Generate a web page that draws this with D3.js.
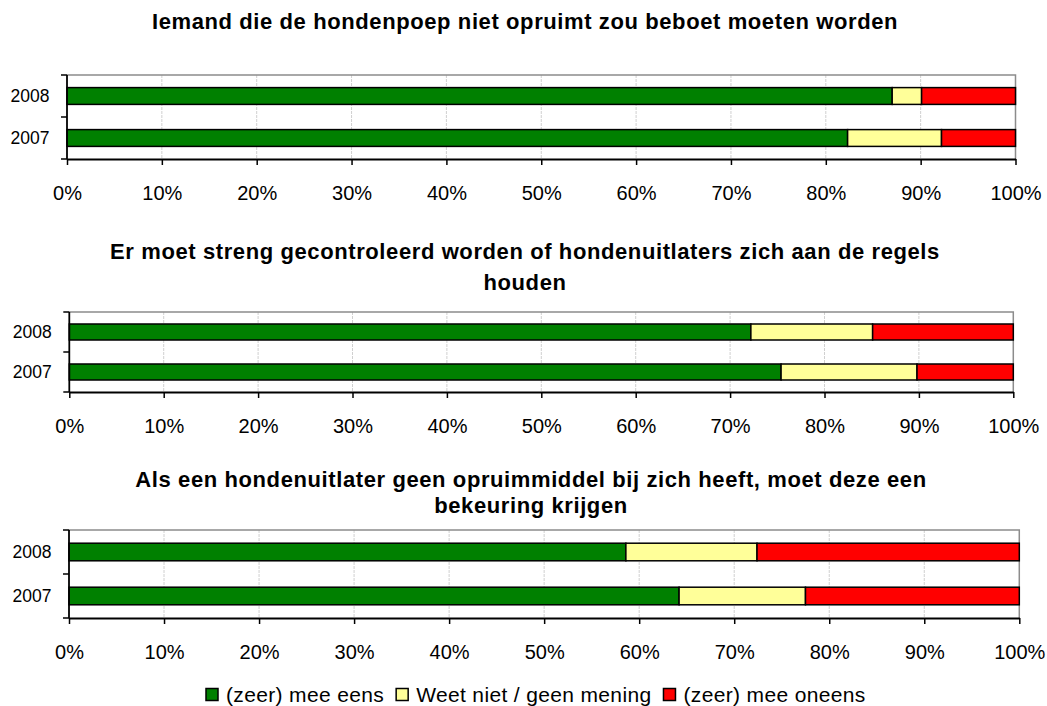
<!DOCTYPE html>
<html>
<head>
<meta charset="utf-8">
<script src="https://cdn.jsdelivr.net/npm/d3@7"></script>
<style>
  body { margin: 0; background: #fff; }
  svg { display: block; font-family: Arial, "Liberation Sans", sans-serif; }
</style>
</head>
<body>
<svg width="1047" height="706"></svg>
<script>
// categories (top to bottom)
const years = ['2008', '2007'];
const series = ['(zeer) mee eens', 'Weet niet / geen mening', '(zeer) mee oneens'];
const colors = ['#008000', '#FFFF99', '#FF0000'];

// percentages per year: [mee eens, weet niet, mee oneens]
const q1 = [[87.0, 3.1, 9.9], [82.3, 9.9, 7.8]];
const q2 = [[72.2, 12.9, 14.9], [75.4, 14.4, 10.2]];
const q3 = [[58.6, 13.8, 27.6], [64.2, 13.3, 22.5]];

const titles = [
  ['Iemand die de hondenpoep niet opruimt zou beboet moeten worden'],
  ['Er moet streng gecontroleerd worden of hondenuitlaters zich aan de regels', 'houden'],
  ['Als een hondenuitlater geen opruimmiddel bij zich heeft, moet deze een', 'bekeuring krijgen']
];

const tickValues = [0, 10, 20, 30, 40, 50, 60, 70, 80, 90, 100];

// layout of the three panels
const panels = [
  { data: q1, title: titles[0], left: 67, right: 1015.5, top: 75, bottom: 159, tx: 525, ty: [28.5] },
  { data: q2, title: titles[1], left: 69.3, right: 1013.3, top: 312, bottom: 392, tx: 525, ty: [259, 290] },
  { data: q3, title: titles[2], left: 69, right: 1019.3, top: 530, bottom: 618, tx: 531, ty: [486.5, 513] }
];

const svg = d3.select('svg');

const stack = d3.stack().keys(d3.range(series.length));

panels.forEach(p => {
  const g = svg.append('g');
  const x = d3.scaleLinear().domain([0, 100]).range([p.left, p.right]);
  const y = d3.scaleBand().domain(years).range([p.top, p.bottom])
    .paddingInner(0.6).paddingOuter(0.3);

  // title
  g.selectAll('text.title').data(p.title).join('text')
    .attr('class', 'title')
    .attr('x', p.tx)
    .attr('y', (d, i) => p.ty[i])
    .attr('text-anchor', 'middle')
    .attr('font-size', 22)
    .attr('font-weight', 'bold')
    .attr('letter-spacing', 0.6)
    .attr('fill', '#000')
    .text(d => d);

  // gridlines
  g.selectAll('line.grid').data(tickValues.slice(1, -1)).join('line')
    .attr('class', 'grid')
    .attr('x1', d => x(d)).attr('x2', d => x(d))
    .attr('y1', p.top).attr('y2', p.bottom)
    .attr('stroke', '#d0d0d0')
    .attr('stroke-dasharray', '3,1');

  // plot frame top + right (grey)
  g.append('path')
    .attr('d', `M${p.left},${p.top}H${p.right}V${p.bottom}`)
    .attr('fill', 'none')
    .attr('stroke', '#8c8c8c')
    .attr('stroke-width', 1.5);

  // stacked bars
  const rows = p.data.map(r => Object.assign({}, r));
  const layers = stack(rows);
  g.selectAll('g.layer').data(layers).join('g')
    .attr('class', 'layer')
    .attr('fill', (d, i) => colors[i])
    .selectAll('rect').data(d => d).join('rect')
    .attr('x', d => x(d[0]))
    .attr('width', d => x(d[1]) - x(d[0]))
    .attr('y', (d, i) => y(years[i]))
    .attr('height', y.bandwidth())
    .attr('stroke', '#000')
    .attr('stroke-width', 1.5);

  // bottom axis
  const ax = g.append('g')
    .attr('transform', `translate(0,${p.bottom})`)
    .call(d3.axisBottom(x).tickValues(tickValues).tickFormat(d => d + '%')
      .tickSize(6).tickSizeOuter(0).tickPadding(21));
  ax.select('.domain').attr('stroke', '#000').attr('stroke-width', 1.8);
  ax.selectAll('.tick line').attr('stroke', '#000').attr('stroke-width', 1.5);
  ax.selectAll('.tick text')
    .attr('font-size', 20)
    .attr('font-family', 'Arial, "Liberation Sans", sans-serif')
    .attr('fill', '#000');

  // left axis with ticks at band boundaries
  const bounds = d3.range(years.length + 1).map(i => p.top + i * y.step());
  g.append('line')
    .attr('x1', p.left).attr('x2', p.left)
    .attr('y1', p.top).attr('y2', p.bottom)
    .attr('stroke', '#000').attr('stroke-width', 1.8);
  g.selectAll('line.ytick').data(bounds).join('line')
    .attr('class', 'ytick')
    .attr('x1', p.left - 6).attr('x2', p.left)
    .attr('y1', d => d).attr('y2', d => d)
    .attr('stroke', '#000').attr('stroke-width', 1.5);
  g.selectAll('text.ylab').data(years).join('text')
    .attr('class', 'ylab')
    .attr('x', p.left - 17.5)
    .attr('y', d => y(d) + y.bandwidth() / 2)
    .attr('dy', '0.35em')
    .attr('text-anchor', 'end')
    .attr('font-size', 17.5)
    .attr('fill', '#000')
    .text(d => d);
});

// legend
const legend = svg.append('g').attr('transform', 'translate(206,695)');
let lx = 0;
series.forEach((s, i) => {
  legend.append('rect')
    .attr('x', lx).attr('y', -6.5)
    .attr('width', 12).attr('height', 12)
    .attr('fill', colors[i])
    .attr('stroke', '#000').attr('stroke-width', 1.5);
  const t = legend.append('text')
    .attr('x', lx + 20)
    .attr('y', 0)
    .attr('dy', '0.35em')
    .attr('font-size', 21)
    .attr('letter-spacing', 0.35)
    .attr('fill', '#000')
    .text(s);
  lx += 20 + t.node().getComputedTextLength() + 12;
});
</script>
</body>
</html>
